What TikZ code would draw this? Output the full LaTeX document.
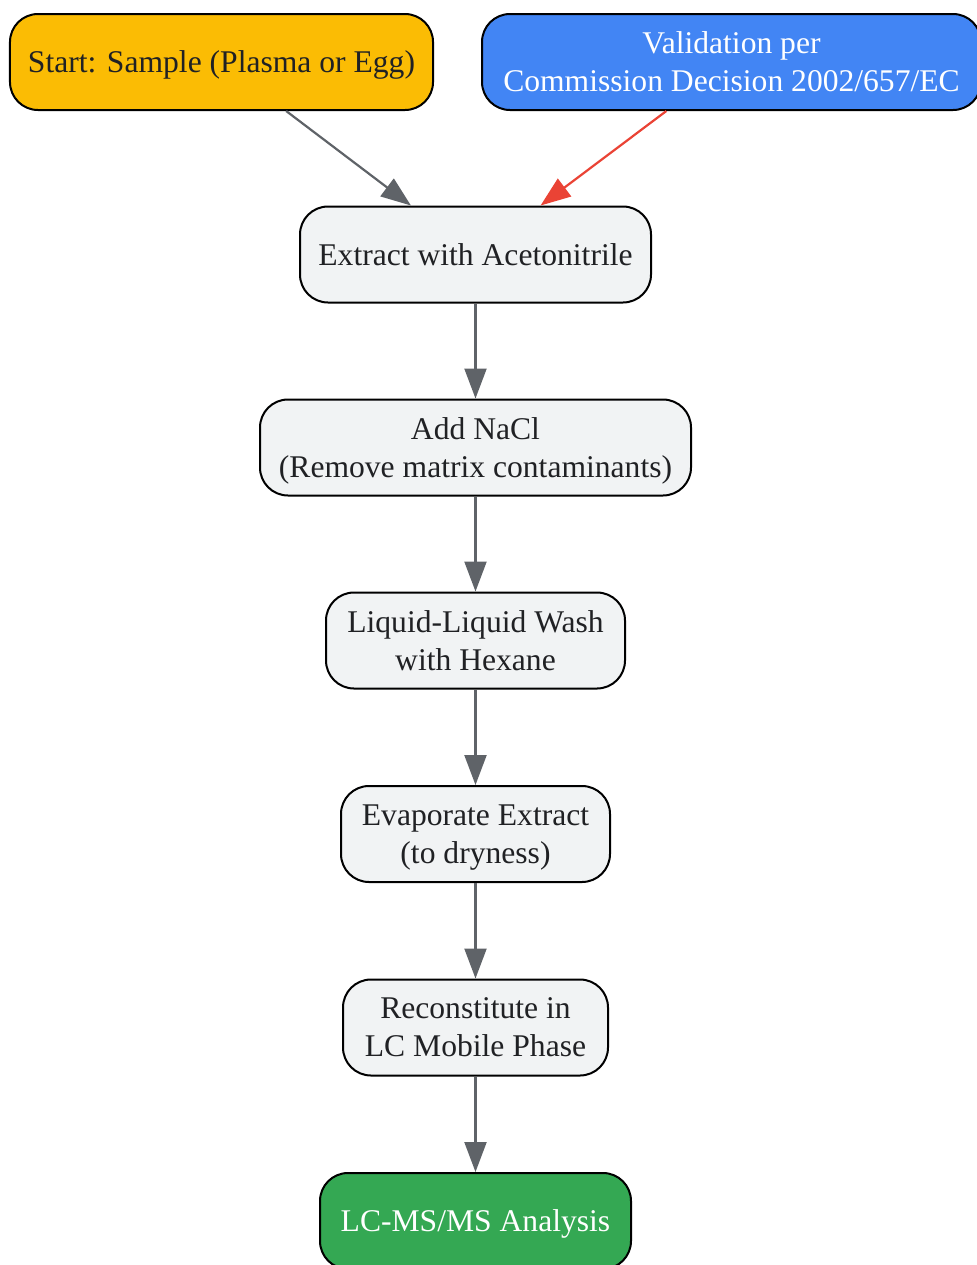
\documentclass[tikz,border=0pt]{standalone}
\usepackage{fontspec}
\setmainfont{Liberation Serif}
\usetikzlibrary{arrows.meta}
\definecolor{startfill}{HTML}{FBBC04}
\definecolor{valfill}{HTML}{4285F4}
\definecolor{endfill}{HTML}{34A853}
\definecolor{stepfill}{HTML}{F1F3F4}
\definecolor{txt}{HTML}{202124}
\definecolor{edgegray}{HTML}{5F6368}
\definecolor{edgered}{HTML}{EA4335}
\tikzset{
  box/.style={draw=black, line width=1pt, rounded corners=14pt, fill=stepfill,
    text=txt, align=center, inner xsep=9pt, minimum height=48pt, text depth=0pt,
    font=\fontsize{15.8}{19}\selectfont},
  flow/.style={draw=edgegray, line width=1.1pt, -{Triangle[length=15pt,width=11pt]}}
}
\begin{document}
\begin{tikzpicture}[x=0.5pt, y=-0.5pt]
        \useasboundingbox (0,0) rectangle (976,1265);
        % Nodes (sample preparation steps)
        \node[box, fill=startfill, minimum width=211.5pt] (start) at (221.5,62) {Start: Sample (Plasma or Egg)};
        \node[box, fill=valfill, text=white, minimum width=249.5pt] (valid) at (731.5,62) {Validation per\\Commission Decision 2002/657/EC};
        \node[box, minimum width=175.5pt] (extract) at (475.5,254.5) {Extract with Acetonitrile};
        \node[box, minimum width=215.5pt] (nacl) at (475.5,447.5) {Add NaCl\\(Remove matrix contaminants)};
        \node[box, minimum width=149.5pt] (wash) at (475.5,640.5) {Liquid-Liquid Wash\\with Hexane};
        \node[box, minimum width=134.5pt] (evap) at (475.5,834) {Evaporate Extract\\(to dryness)};
        \node[box, minimum width=132.5pt] (recon) at (475.5,1027.5) {Reconstitute in\\LC Mobile Phase};
        \node[box, fill=endfill, text=white, minimum width=155.5pt] (lcms) at (475.5,1221) {LC-MS/MS Analysis};

        % Edges (order of the steps)
        \draw[flow] (start) -- (extract);
        \draw[flow, draw=edgered, color=edgered] (valid) -- (extract);
        \draw[flow] (extract) -- (nacl);
        \draw[flow] (nacl) -- (wash);
        \draw[flow] (wash) -- (evap);
        \draw[flow] (evap) -- (recon);
        \draw[flow] (recon) -- (lcms);
    \end{tikzpicture}
\end{document}
